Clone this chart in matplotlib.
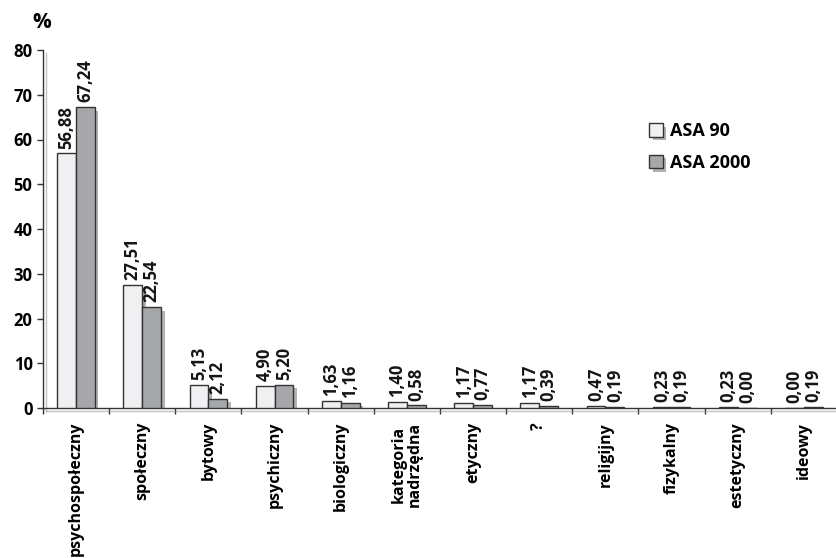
import matplotlib
matplotlib.use("Agg")
import matplotlib.pyplot as plt
import matplotlib.patheffects as pe
from matplotlib.patches import Patch
import numpy as np

categories = ["psychospołeczny", "społeczny", "bytowy", "psychiczny", "biologiczny",
              "kategoria\nnadrzędna", "etyczny", "?", "religijny", "fizykalny",
              "estetyczny", "ideowy"]
asa90 = [56.88, 27.51, 5.13, 4.90, 1.63, 1.40, 1.17, 1.17, 0.47, 0.23, 0.23, 0.00]
asa2000 = [67.24, 22.54, 2.12, 5.20, 1.16, 0.58, 0.77, 0.39, 0.19, 0.19, 0.00, 0.19]
series_names = ["ASA 90", "ASA 2000"]
yticks = [0, 10, 20, 30, 40, 50, 60, 70, 80]

FONT = ["Open Sans", "DejaVu Sans"]
plt.rcParams["font.family"] = FONT

c_light = "#eff0f2"
c_dark = "#a5a7aa"
c_edge = "#333333"

fig = plt.figure(figsize=(8.37, 5.58), dpi=100)
ax = fig.add_axes([43/837, 1-408/558, 1-43/837, (408-50)/558])

x = np.arange(len(categories)) + 0.5
w = 0.285
shadow = [pe.SimplePatchShadow(offset=(2.5, -2.5), shadow_rgbFace="#555555", alpha=0.45),
          pe.Normal()]
b1 = ax.bar(x - 0.143, asa90, width=w, color=c_light, edgecolor=c_edge, linewidth=1, zorder=3)
b2 = ax.bar(x + 0.143, asa2000, width=w, color=c_dark, edgecolor=c_edge, linewidth=1, zorder=3)
for b in list(b1) + list(b2):
    b.set_path_effects(shadow)

def fmt(v):
    return f"{v:.2f}".replace(".", ",")

for xs, vals in ((x - 0.143, asa90), (x + 0.143, asa2000)):
    for xi, v in zip(xs, vals):
        ax.annotate(fmt(v), (xi, v), xytext=(0, 3.5), textcoords="offset points",
                    rotation=90, ha="center", va="bottom", fontsize=12,
                    fontweight="bold", color="#151515")

ax.set_xlim(0, len(categories))
ax.set_ylim(0, 80)
ax.set_yticks(yticks)
ax.set_yticklabels([str(t) for t in yticks], fontsize=12, fontweight="bold")
ax.tick_params(axis="y", direction="out", length=4, width=1, pad=3.5, color="#333333")
ax.set_xticks(np.arange(len(categories) + 1))
ax.set_xticklabels([])
ax.set_xticks(x, minor=True)
ax.set_xticklabels(categories, minor=True, rotation=90, va="top", ha="center",
                   fontsize=11.5, fontweight="bold", linespacing=1.0)
ax.tick_params(axis="x", which="major", direction="out", length=4, width=1, color="#333333")
ax.tick_params(axis="x", which="minor", length=0, pad=10)

for s in ("top", "right"):
    ax.spines[s].set_visible(False)
for s in ("left", "bottom"):
    ax.spines[s].set_color("#333333")
    ax.spines[s].set_linewidth(1)
    ax.spines[s].set_path_effects([pe.SimpleLineShadow(offset=(2, -2), shadow_color="#888888", alpha=0.5), pe.Normal()])

fig.text(32/837, 1-23/558, "%", fontsize=15, fontweight="bold", va="center", ha="left")

handles = [Patch(facecolor=c_light, edgecolor=c_edge, linewidth=1),
           Patch(facecolor=c_dark, edgecolor=c_edge, linewidth=1)]
leg = fig.legend(handles, series_names, loc="upper left", bbox_to_anchor=(633/837, 1-106/558),
                 frameon=False, handlelength=0.75, handleheight=0.75, handletextpad=0.4,
                 labelspacing=0.75, prop={"family": FONT, "weight": "bold", "size": 13})
for h in leg.legend_handles:
    h.set_path_effects(shadow)

fig.savefig("out.png", dpi=100)
